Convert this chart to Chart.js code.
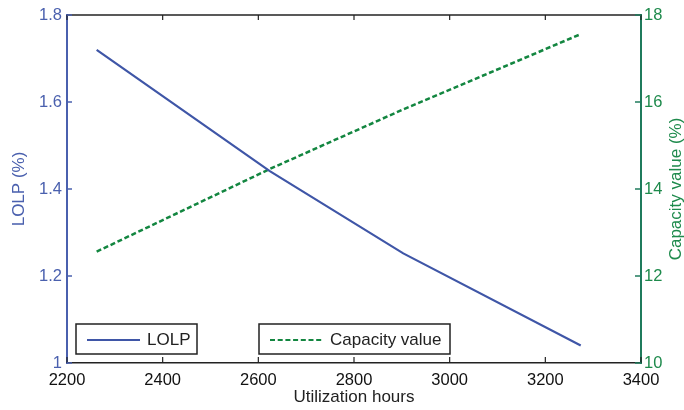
<!DOCTYPE html>
<html>
<head>
<meta charset="utf-8">
<script src="https://cdn.jsdelivr.net/npm/chart.js@4/dist/chart.umd.min.js"></script>
<style>
html,body{margin:0;padding:0;background:#fff;}
#wrap{width:684px;height:410px;}
</style>
</head>
<body>
<div id="wrap"><canvas id="c" width="684" height="410"></canvas></div>
<script>
// ---- data ----
const hours = [2262, 2624, 2903, 3274];
const lolp = [1.720, 1.441, 1.252, 1.040];
const capacityValue = [12.56, 14.46, 15.83, 17.56];
const xTicks = [2200, 2400, 2600, 2800, 3000, 3200, 3400];
const lolpTicks = [1, 1.2, 1.4, 1.6, 1.8];
const capTicks = [10, 12, 14, 16, 18];
const seriesNames = ['LOLP', 'Capacity value'];
const rightTitle = 'Capacity value (%)';

const BLUE = '#3f56a7';
const BLUE_AX = '#4a60ae';
const GREEN = '#138640';
const GREEN_AX = '#1f7b5c';
const GREEN_TXT = '#1e8a4c';
const FONT = 'Liberation Sans, Arial, sans-serif';

const frame = {
  id: 'frame',
  afterDatasetsDraw(chart) {
    const {ctx, chartArea: a, scales} = chart;
    ctx.save();
    // top axis line
    ctx.strokeStyle = '#222';
    ctx.lineWidth = 1.5;
    ctx.beginPath(); ctx.moveTo(a.left, a.top); ctx.lineTo(a.right, a.top); ctx.stroke();
    // inward ticks on x (bottom and top)
    ctx.lineWidth = 1.2;
    scales.x.ticks.forEach(t => {
      const px = scales.x.getPixelForValue(t.value);
      ctx.beginPath();
      ctx.moveTo(px, a.bottom); ctx.lineTo(px, a.bottom - 6);
      ctx.moveTo(px, a.top); ctx.lineTo(px, a.top + 5);
      ctx.stroke();
    });
    // left inward ticks
    ctx.strokeStyle = BLUE_AX; ctx.lineWidth = 1.5;
    scales.y.ticks.forEach(t => {
      const py = scales.y.getPixelForValue(t.value);
      ctx.beginPath(); ctx.moveTo(a.left, py); ctx.lineTo(a.left + 5, py); ctx.stroke();
    });
    ctx.strokeStyle = GREEN_AX;
    scales.y2.ticks.forEach(t => {
      const py = scales.y2.getPixelForValue(t.value);
      ctx.beginPath(); ctx.moveTo(a.right, py); ctx.lineTo(a.right - 6, py); ctx.stroke();
    });
    // right axis title, reading bottom to top
    ctx.save();
    ctx.translate(676, (a.top + a.bottom) / 2);
    ctx.rotate(-Math.PI / 2);
    ctx.fillStyle = GREEN_TXT;
    ctx.font = '17px ' + FONT;
    ctx.textAlign = 'center'; ctx.textBaseline = 'middle';
    ctx.fillText(rightTitle, 0, 0);
    ctx.restore();
    // legend boxes
    const boxes = [
      {x: 76, w: 121, name: seriesNames[0], color: BLUE, dash: []},
      {x: 259, w: 191, name: seriesNames[1], color: GREEN, dash: [5, 2.7]}
    ];
    const by = 324, bh = 30;
    boxes.forEach(b => {
      ctx.fillStyle = '#fff';
      ctx.fillRect(b.x, by, b.w, bh);
      ctx.strokeStyle = '#222'; ctx.lineWidth = 1.5; ctx.setLineDash([]);
      ctx.strokeRect(b.x, by, b.w, bh);
      ctx.strokeStyle = b.color; ctx.lineWidth = 2.2; ctx.setLineDash(b.dash);
      ctx.beginPath(); ctx.moveTo(b.x + 11, by + 16); ctx.lineTo(b.x + 64, by + 16); ctx.stroke();
      ctx.setLineDash([]);
      ctx.fillStyle = '#222';
      ctx.font = '17px ' + FONT;
      ctx.textBaseline = 'middle'; ctx.textAlign = 'left';
      ctx.fillText(b.name, b.x + 71, by + 16);
    });
    ctx.restore();
  }
};

new Chart(document.getElementById('c'), {
  type: 'line',
  data: {
    datasets: [
      {label: seriesNames[0], data: hours.map((h, i) => ({x: h, y: lolp[i]})), yAxisID: 'y',
       borderColor: BLUE, borderWidth: 2.2, pointRadius: 0, tension: 0, fill: false},
      {label: seriesNames[1], data: hours.map((h, i) => ({x: h, y: capacityValue[i]})), yAxisID: 'y2',
       borderColor: GREEN, borderWidth: 2.5, borderDash: [5, 2.7], pointRadius: 0, tension: 0, fill: false}
    ]
  },
  options: {
    responsive: false,
    animation: false,
    devicePixelRatio: 1,
    layout: {padding: {top: 15, left: 0, right: 0, bottom: 0}},
    plugins: {legend: {display: false}, tooltip: {enabled: false}},
    scales: {
      x: {
        type: 'linear', min: 2200, max: 3400,
        afterBuildTicks: s => { s.ticks = xTicks.map(v => ({value: v})); },
        afterFit: s => { s.height = 47; },
        grid: {display: false, drawTicks: false},
        border: {display: true, color: '#222', width: 1.5},
        ticks: {color: '#111', padding: 8, font: {family: FONT, size: 16.5}, maxRotation: 0, autoSkip: false,
                callback: v => String(v)},
        title: {display: true, text: 'Utilization hours', color: '#222', font: {family: FONT, size: 17},
                padding: {top: 0, bottom: 2}}
      },
      y: {
        type: 'linear', position: 'left', min: 1, max: 1.8,
        afterBuildTicks: s => { s.ticks = lolpTicks.map(v => ({value: v})); },
        afterFit: s => { s.width = 67; },
        grid: {display: false, drawTicks: false},
        border: {display: true, color: BLUE_AX, width: 2},
        ticks: {color: BLUE_AX, padding: 5, font: {family: FONT, size: 16.5}, autoSkip: false,
                callback: v => String(v)},
        title: {display: true, text: 'LOLP (%)', color: BLUE_AX, font: {family: FONT, size: 17},
                padding: {top: 9, bottom: 0}}
      },
      y2: {
        type: 'linear', position: 'right', min: 10, max: 18,
        afterBuildTicks: s => { s.ticks = capTicks.map(v => ({value: v})); },
        afterFit: s => { s.width = 43; },
        grid: {display: false, drawTicks: false},
        border: {display: true, color: GREEN_AX, width: 2},
        ticks: {color: GREEN_TXT, padding: 3, font: {family: FONT, size: 16.5}, autoSkip: false,
                callback: v => String(v)},
        title: {display: false}
      }
    }
  },
  plugins: [frame]
});
</script>
</body>
</html>
